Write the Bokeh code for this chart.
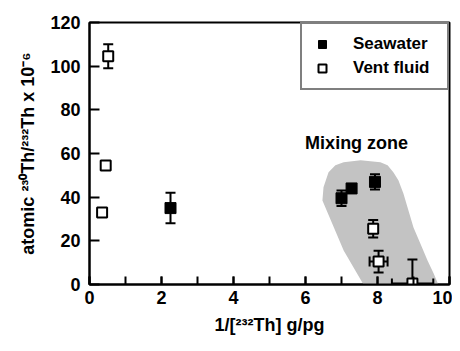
from bokeh.plotting import figure
from bokeh.models import (SingleIntervalTicker, Label, Legend, LegendItem,
                          Range1d)
from bokeh.embed import file_html
from bokeh.resources import INLINE
import math

# ---- data ----
# Mixing zone outline (x, y)
zone_x = [7.61, 7.06, 6.47, 6.50, 6.64, 6.83, 7.06, 7.53, 8.08, 8.28, 8.44,
          8.58, 8.72, 8.86, 9.00, 9.19, 9.39, 9.56, 9.69]
zone_y = [0.0, 15.6, 38.5, 44.5, 51.4, 54.6, 56.0, 56.9, 56.0, 54.6, 51.4,
          47.7, 41.7, 33.9, 26.1, 18.8, 11.0, 5.0, 0.0]

# Seawater
sw_x = [2.25, 7.00, 7.28, 7.93]
sw_y = [35.0, 39.5, 44.0, 47.0]
sw_ylo = [28.0, 36.0, 42.0, 43.5]
sw_yhi = [42.0, 43.0, 46.0, 50.5]

# Vent fluid
vf_x = [0.52, 0.45, 0.35, 7.88, 8.03, 8.97]
vf_y = [104.5, 54.5, 33.0, 25.5, 10.5, 0.5]
# vertical error bars (index subset)
vf_ey_x = [0.52, 7.88, 8.03, 8.97]
vf_ey_lo = [99.0, 21.5, 5.5, -10.0]
vf_ey_hi = [110.0, 29.5, 15.5, 11.5]
# horizontal error bars
vf_ex_y = [10.5, 0.5]
vf_ex_lo = [7.78, 8.40]
vf_ex_hi = [8.28, 9.55]

x_ticks_major = 2
y_ticks_major = 20

FONT = "Liberation Sans"

p = figure(width=452, height=343, output_backend="svg", toolbar_location=None,
           x_range=Range1d(0, 10), y_range=Range1d(0, 120),
           min_border_left=89, min_border_right=3, min_border_top=22,
           min_border_bottom=59)
p.background_fill_color = "white"
p.border_fill_color = "white"
p.xgrid.visible = False
p.ygrid.visible = False
p.outline_line_color = "black"
p.outline_line_width = 2

# mixing zone
p.patch(zone_x, zone_y, fill_color="#c3c3c3", line_color=None)

# error bars
p.segment(x0=vf_ey_x, y0=vf_ey_lo, x1=vf_ey_x, y1=vf_ey_hi,
          line_color="black", line_width=2)
p.scatter(vf_ey_x + vf_ey_x, vf_ey_lo + vf_ey_hi, marker="dash", size=10,
          line_color="black", line_width=2)
p.segment(x0=vf_ex_lo, y0=vf_ex_y, x1=vf_ex_hi, y1=vf_ex_y,
          line_color="black", line_width=2)
p.scatter(vf_ex_lo + vf_ex_hi, vf_ex_y + vf_ex_y, marker="dash", size=10,
          angle=math.pi / 2, line_color="black", line_width=2)
p.segment(x0=sw_x, y0=sw_ylo, x1=sw_x, y1=sw_yhi,
          line_color="black", line_width=2)
p.scatter(sw_x + sw_x, sw_ylo + sw_yhi, marker="dash", size=10,
          line_color="black", line_width=2)

# markers
r_sw = p.scatter(sw_x, sw_y, marker="square", size=11, fill_color="black",
                 line_color="black", line_width=1)
r_vf = p.scatter(vf_x, vf_y, marker="square", size=10, fill_color="white",
                 line_color="black", line_width=2)

# axes
p.xaxis.ticker = SingleIntervalTicker(interval=x_ticks_major, num_minor_ticks=2)
p.yaxis.ticker = SingleIntervalTicker(interval=y_ticks_major, num_minor_ticks=0)
for ax in (p.xaxis[0], p.yaxis[0]):
    ax.axis_line_width = 2
    ax.axis_line_color = "black"
    ax.major_tick_line_width = 2
    ax.minor_tick_line_width = 2
    ax.major_tick_out = 0
    ax.minor_tick_out = 0
    ax.major_label_text_font = FONT
    ax.major_label_text_font_style = "bold"
    ax.major_label_text_font_size = "18px"
    ax.major_label_text_color = "black"
    ax.axis_label_text_font = FONT
    ax.axis_label_text_font_style = "bold"
    ax.axis_label_text_font_size = "18px"
    ax.axis_label_text_color = "black"
p.xaxis.major_tick_in = 8
p.xaxis.minor_tick_in = 8
p.yaxis.major_tick_in = 10
p.yaxis.minor_tick_in = 0
p.xaxis.major_label_standoff = 6
p.yaxis.major_label_standoff = 9
p.xaxis.axis_label = "1/[²³²Th] g/pg"
p.yaxis.axis_label = "atomic ²³⁰Th/²³²Th x 10⁻⁶"
p.xaxis.axis_label_standoff = 8
p.yaxis.axis_label_standoff = 9

# label
p.add_layout(Label(x=7.42, y=65, text="Mixing zone", text_font=FONT,
                   text_font_style="bold", text_font_size="18px",
                   text_align="center", text_baseline="middle",
                   text_color="black"))

legend = Legend(items=[LegendItem(label="Seawater", renderers=[r_sw]),
                       LegendItem(label="Vent fluid", renderers=[r_vf])],
                location="top_right", margin=0, padding=10, spacing=4,
                glyph_width=20, glyph_height=20, label_height=20,
                label_standoff=21, label_width=84,
                label_text_font=FONT, label_text_font_style="bold",
                label_text_font_size="17px", label_text_color="black",
                border_line_color="black", border_line_width=2,
                background_fill_color="white", background_fill_alpha=1)
p.add_layout(legend)

open("out.html", "w").write(file_html(p, INLINE))
